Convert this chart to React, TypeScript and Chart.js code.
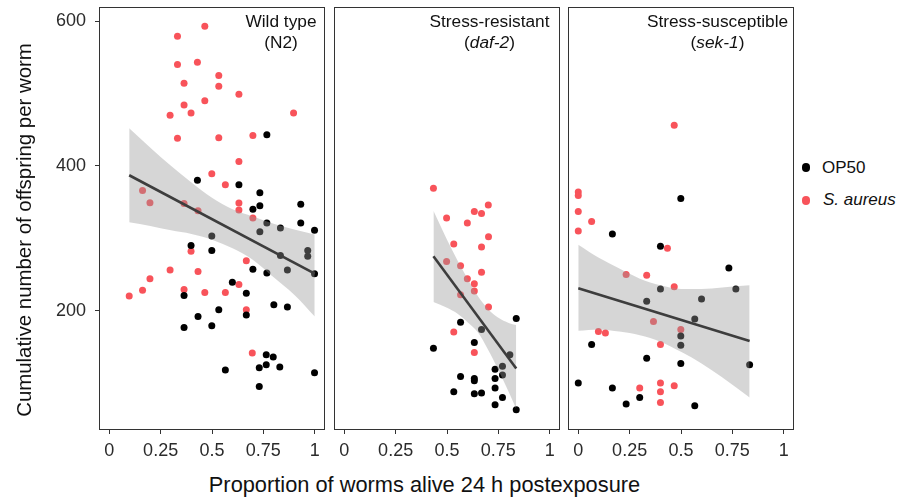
import React, { useEffect, useRef } from 'react';
import { Chart, registerables } from 'chart.js';

Chart.register(...registerables);

const FONT = '"Liberation Sans", Arial, Helvetica, sans-serif';
const RED = '#f8535a';
const BLACK = '#000000';

const xTicks = [0, 0.25, 0.5, 0.75, 1];
const yTicks = [200, 400, 600];

// ---- Wild type (N2) ----
const n2Op50X = [0.767, 0.429, 0.631, 0.733, 0.733, 0.699, 0.932, 0.767, 0.833, 0.932, 0.999, 0.733, 0.499, 0.398, 0.499, 0.833, 0.966, 0.966, 0.699, 0.767, 0.867, 0.999, 0.599, 0.364, 0.667, 0.801, 0.867, 0.533, 0.667, 0.432, 0.364, 0.499, 0.764, 0.798, 0.764, 0.73, 0.83, 0.565, 0.999, 0.73];
const n2Op50Y = [443, 380, 374, 363, 345, 340, 347, 321, 314, 321, 311, 309, 303, 290, 283, 276, 283, 275, 257, 252, 256, 251, 239, 221, 224, 208, 205, 201, 194, 192, 176.5, 179, 139, 136, 125, 121, 122, 118, 114, 95];
const n2SaX = [0.465, 0.332, 0.332, 0.429, 0.533, 0.364, 0.533, 0.631, 0.465, 0.364, 0.398, 0.296, 0.897, 0.332, 0.533, 0.699, 0.631, 0.499, 0.565, 0.162, 0.198, 0.364, 0.432, 0.631, 0.631, 0.699, 0.667, 0.398, 0.296, 0.432, 0.198, 0.631, 0.162, 0.097, 0.364, 0.465, 0.565, 0.667, 0.696];
const n2SaY = [593, 579, 540, 543, 525, 514, 510, 499, 490, 484, 473, 470, 473, 438, 439, 442, 406, 389, 374, 366, 349, 348, 338, 348.5, 339, 328, 269, 282, 256, 254, 244, 236, 228, 220, 229, 225, 225, 201, 141.5];
const n2FitX = [0.097, 1.0];
const n2FitY = [387, 251];
const n2BandX = [0.097, 0.2, 0.3, 0.4, 0.5, 0.6, 0.7, 0.8, 0.9, 1.0];
const n2BandHi = [452, 425, 400, 377, 356, 340, 330, 320, 312, 305];
const n2BandLo = [322, 317, 311, 306, 298, 286, 270, 246, 222, 192];

// ---- Stress-resistant (daf-2) ----
const dafOp50X = [0.837, 0.566, 0.668, 0.434, 0.633, 0.806, 0.734, 0.77, 0.77, 0.566, 0.633, 0.633, 0.734, 0.734, 0.533, 0.633, 0.668, 0.77, 0.734, 0.837];
const dafOp50Y = [189, 184, 174, 148, 156, 139, 119, 123, 111, 109, 106, 103, 106, 93, 88, 85, 86, 80, 70, 63];
const dafSaX = [0.434, 0.498, 0.633, 0.668, 0.701, 0.599, 0.702, 0.533, 0.668, 0.498, 0.566, 0.668, 0.599, 0.633, 0.633, 0.566, 0.702, 0.533, 0.633];
const dafSaY = [369, 328, 337, 334, 346, 321, 302, 292, 288, 268, 262, 253, 244, 237, 227, 222, 205, 170.5, 142];
const dafFitX = [0.434, 0.837];
const dafFitY = [275, 120];
const dafBandX = [0.434, 0.5, 0.55, 0.6, 0.65, 0.7, 0.75, 0.8, 0.837];
const dafBandHi = [338, 298, 270, 244, 220, 202, 190, 183, 180];
const dafBandLo = [212, 204, 196, 184, 170, 146, 118, 88, 64];

// ---- Stress-susceptible (sek-1) ----
const sekOp50X = [0.499, 0.166, 0.4, 0.733, 0.4, 0.767, 0.333, 0.6, 0.567, 0.499, 0.065, 0.499, 0.333, 0.499, 0.834, 0, 0.166, 0.233, 0.299, 0.567];
const sekOp50Y = [355, 306, 289, 259, 230, 230, 213, 216, 188.5, 165, 153, 152, 134, 127, 125, 100, 93, 71, 80, 68.5];
const sekSaX = [0.467, 0, 0, 0, 0.065, 0, 0.434, 0.233, 0.333, 0.467, 0.366, 0.499, 0.098, 0.132, 0.4, 0.299, 0.4, 0.4, 0.467, 0.4];
const sekSaY = [456, 364, 359, 337, 323, 310, 286, 250, 249, 233, 185, 174, 171, 169, 153, 93, 100, 88, 96, 73];
const sekFitX = [0, 0.834];
const sekFitY = [231, 158];
const sekBandX = [0, 0.1, 0.2, 0.3, 0.4, 0.5, 0.6, 0.7, 0.834];
const sekBandHi = [291, 273, 258, 244, 235, 230, 230, 232, 235];
const sekBandLo = [172, 174, 171, 166, 157, 143, 127, 108, 80];

const pts = (xs: number[], ys: number[]) => xs.map((x, i) => ({ x, y: ys[i] }));

const boxPlugin = {
  id: 'panelBox',
  afterDraw(chart: any) {
    const { ctx, chartArea: a } = chart;
    ctx.save();
    ctx.strokeStyle = '#333333';
    ctx.lineWidth = 1;
    const l = Math.round(a.left) + 0.5;
    const t = Math.round(a.top) + 0.5;
    const r = Math.round(a.right) - 0.5;
    const b = Math.round(a.bottom) - 0.5;
    ctx.strokeRect(l, t, r - l, b - t);
    ctx.restore();
  },
};

type PanelProps = {
  left: number;
  width: number;
  height: number;
  padL: number;
  padR: number;
  showY: boolean;
  op50X: number[];
  op50Y: number[];
  saX: number[];
  saY: number[];
  fitX: number[];
  fitY: number[];
  bandX: number[];
  bandHi: number[];
  bandLo: number[];
};

function Panel(p: PanelProps) {
  const ref = useRef<HTMLCanvasElement | null>(null);
  useEffect(() => {
    if (!ref.current) return;
    const chart = new Chart(ref.current, {
      type: 'line',
      data: {
        datasets: [
          {
            data: pts(p.fitX, p.fitY),
            borderColor: '#3d3d3d',
            borderWidth: 2.6,
            pointRadius: 0,
            fill: false,
            order: 0,
          },
          {
            data: pts(p.bandX, p.bandHi),
            borderColor: 'rgba(0,0,0,0)',
            borderWidth: 0,
            pointRadius: 0,
            backgroundColor: 'rgba(153,153,153,0.4)',
            fill: '+1',
            cubicInterpolationMode: 'monotone',
            order: 1,
          },
          {
            data: pts(p.bandX, p.bandLo),
            borderColor: 'rgba(0,0,0,0)',
            borderWidth: 0,
            pointRadius: 0,
            fill: false,
            cubicInterpolationMode: 'monotone',
            order: 1,
          },
          {
            data: pts(p.op50X, p.op50Y),
            showLine: false,
            pointRadius: 3.5,
            pointBorderWidth: 0,
            pointBackgroundColor: BLACK,
            order: 2,
          },
          {
            data: pts(p.saX, p.saY),
            showLine: false,
            pointRadius: 3.5,
            pointBorderWidth: 0,
            pointBackgroundColor: RED,
            order: 2,
          },
        ],
      } as any,
      options: {
        animation: false,
        responsive: false,
        maintainAspectRatio: false,
        events: [],
        layout: { autoPadding: false, padding: { left: p.padL, right: p.padR, top: 7, bottom: 0 } },
        plugins: { legend: { display: false }, tooltip: { enabled: false }, title: { display: false } },
        scales: {
          x: {
            type: 'linear',
            min: -0.05,
            max: 1.05,
            afterBuildTicks: (s: any) => {
              s.ticks = xTicks.map((v) => ({ value: v }));
            },
            afterFit: (s: any) => {
              s.height = 40;
              s.paddingLeft = 0;
              s.paddingRight = 0;
              s.paddingTop = 0;
              s.paddingBottom = 0;
            },
            ticks: {
              callback: (v: any) => String(v),
              font: { size: 18, family: FONT },
              color: '#2b2b2b',
              padding: 6,
              maxRotation: 0,
              autoSkip: false,
            },
            grid: { display: true, drawOnChartArea: false, drawTicks: true, tickLength: 4, color: '#333333' },
            border: { display: false },
          },
          y: {
            type: 'linear',
            display: p.showY,
            min: 35,
            max: 619.5,
            afterBuildTicks: (s: any) => {
              s.ticks = yTicks.map((v) => ({ value: v }));
            },
            afterFit: (s: any) => {
              s.width = p.showY ? 99 : 0;
              s.paddingLeft = 0;
              s.paddingRight = 0;
              s.paddingTop = 0;
              s.paddingBottom = 0;
            },
            ticks: {
              callback: (v: any) => String(v),
              font: { size: 18, family: FONT },
              color: '#2b2b2b',
              padding: 9,
            },
            grid: { display: true, drawOnChartArea: false, drawTicks: true, tickLength: 4, color: '#333333' },
            border: { display: false },
          },
        },
      } as any,
      plugins: [boxPlugin],
    });
    return () => chart.destroy();
  }, []);
  return (
    <canvas
      ref={ref}
      width={p.width}
      height={p.height}
      style={{ position: 'absolute', left: p.left, top: 0, width: p.width, height: p.height }}
    />
  );
}

const titleStyle = (cx: number): React.CSSProperties => ({
  position: 'absolute',
  left: cx - 100,
  top: 11,
  width: 200,
  textAlign: 'center',
  fontFamily: FONT,
  fontSize: 17.3,
  lineHeight: '20.5px',
  color: '#111',
  whiteSpace: 'nowrap',
});

export default function App() {
  return (
    <div style={{ position: 'absolute', left: 0, top: 0, width: 909, height: 499, background: '#fff', overflow: 'hidden' }}>
      <Panel left={0} width={330} height={470} padL={0} padR={5} showY={true}
        op50X={n2Op50X} op50Y={n2Op50Y} saX={n2SaX} saY={n2SaY}
        fitX={n2FitX} fitY={n2FitY} bandX={n2BandX} bandHi={n2BandHi} bandLo={n2BandLo} />
      <Panel left={330} width={234} height={470} padL={4} padR={4} showY={false}
        op50X={dafOp50X} op50Y={dafOp50Y} saX={dafSaX} saY={dafSaY}
        fitX={dafFitX} fitY={dafFitY} bandX={dafBandX} bandHi={dafBandHi} bandLo={dafBandLo} />
      <Panel left={564} width={234} height={470} padL={4} padR={4} showY={false}
        op50X={sekOp50X} op50Y={sekOp50Y} saX={sekSaX} saY={sekSaY}
        fitX={sekFitX} fitY={sekFitY} bandX={sekBandX} bandHi={sekBandHi} bandLo={sekBandLo} />

      <div style={titleStyle(281)}>Wild type<br />(N2)</div>
      <div style={titleStyle(489.5)}>Stress-resistant<br />(<i>daf-2</i>)</div>
      <div style={titleStyle(717.5)}>Stress-susceptible<br />(<i>sek-1</i>)</div>

      <div
        style={{
          position: 'absolute',
          left: 23.9 - 220,
          top: 230 - 12,
          width: 440,
          height: 24,
          lineHeight: '24px',
          textAlign: 'center',
          fontFamily: FONT,
          fontSize: 20.4,
          color: '#111',
          transform: 'rotate(-90deg)',
          transformOrigin: '50% 50%',
          whiteSpace: 'nowrap',
        }}
      >
        Cumulative number of offspring per worm
      </div>

      <div
        style={{
          position: 'absolute',
          left: 424.5 - 300,
          top: 471.8,
          width: 600,
          lineHeight: '26px',
          textAlign: 'center',
          fontFamily: FONT,
          fontSize: 21.8,
          color: '#111',
          whiteSpace: 'nowrap',
        }}
      >
        Proportion of worms alive 24 h postexposure
      </div>

      <div style={{ position: 'absolute', left: 806 - 4.4, top: 167.3 - 4.4, width: 8.8, height: 8.8, borderRadius: '50%', background: BLACK }} />
      <div style={{ position: 'absolute', left: 822, top: 158, lineHeight: '20px', fontFamily: FONT, fontSize: 17, color: '#111', whiteSpace: 'nowrap' }}>OP50</div>
      <div style={{ position: 'absolute', left: 806 - 4.4, top: 200.3 - 4.4, width: 8.8, height: 8.8, borderRadius: '50%', background: RED }} />
      <div style={{ position: 'absolute', left: 823, top: 190, lineHeight: '20px', fontFamily: FONT, fontSize: 17, color: '#111', whiteSpace: 'nowrap', fontStyle: 'italic' }}>S. aureus</div>
    </div>
  );
}
